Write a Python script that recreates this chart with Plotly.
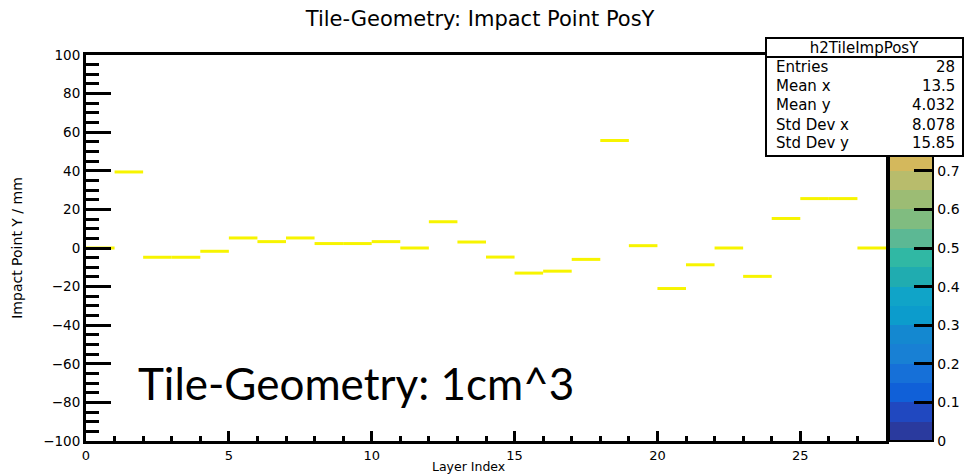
import plotly.graph_objects as go

# ---- data ----
layers = list(range(28))
impact_y = [0.0, 39.4, -4.8, -4.8, -1.7, 5.2, 3.3, 5.2, 2.3, 2.3, 3.3, 0.0, 13.6, 3.1,
            -4.7, -13.0, -12.0, -5.9, 55.7, 1.2, -21.0, -8.7, 0.0, -14.7, 15.3, 25.6, 25.6, 0.0]
bin_content = [1.0] * 28

stats_title = "h2TileImpPosY"
stats_labels = ["Entries", "Mean x", "Mean y", "Std Dev x", "Std Dev y"]
stats_values = ["28", "13.5", "4.032", "8.078", "15.85"]

# colour-axis labels visible below the statistics box
z_ticks = [0, 0.1, 0.2, 0.3, 0.4, 0.5, 0.6, 0.7]
band_colors = ["#2a3a9e", "#2048c0", "#1060d8", "#1670d8", "#1880d4", "#1488d0",
               "#0c9ccc", "#10a4c8", "#20acb0", "#30b8a4", "#5cb894", "#80bc80",
               "#9cbc74", "#b8bc6c", "#d4b85c", "#e6b84c", "#f2c03c", "#f6d02c",
               "#f6e41c", "#f7f400"]

# ---- build stepped colorscale ----
n = len(band_colors)
colorscale = []
for k, c in enumerate(band_colors):
    colorscale.append([k / n, c])
    colorscale.append([(k + 1) / n, c])

# ---- bins as horizontal segments (each layer bin spans [i, i+1]) ----
seg_x, seg_y = [], []
for i, v in zip(layers, impact_y):
    seg_x += [i, i + 1, None]
    seg_y += [v, v, None]

ROOTF = "DejaVu Sans"

fig = go.Figure()
fig.add_trace(go.Scatter(
    x=seg_x, y=seg_y, mode="lines",
    line=dict(color=band_colors[-1], width=3),
    hoverinfo="skip", showlegend=False))

fig.add_trace(go.Scatter(
    x=[layers[0] + 0.5, layers[-1] + 0.5], y=[impact_y[0], impact_y[-1]],
    mode="markers",
    marker=dict(size=1, opacity=0, color=[0, max(bin_content)], cmin=0, cmax=1,
                colorscale=colorscale, showscale=True,
                colorbar=dict(
                    x=1.004, xanchor="left", xpad=0, ypad=0,
                    y=0, yanchor="bottom", len=386, lenmode="pixels",
                    thickness=44, thicknessmode="pixels",
                    outlinecolor="black", outlinewidth=2,
                    ticks="inside", ticklen=20, tickwidth=3, tickcolor="black",
                    tickvals=z_ticks,
                    tickfont=dict(family=ROOTF, size=14, color="black"))),
    hoverinfo="skip", showlegend=False))

fig.update_layout(
    width=964, height=475,
    margin=dict(l=86, r=78, t=55, b=34, autoexpand=False),
    paper_bgcolor="white", plot_bgcolor="white",
    title=dict(text="Tile-Geometry: Impact Point PosY", x=0.498, xanchor="center",
               y=0.96, yanchor="middle",
               font=dict(family=ROOTF, size=21, color="black")),
    showlegend=False,
)

fig.update_xaxes(
    range=[0, 28], showgrid=False, zeroline=False,
    showline=True, linecolor="black", linewidth=3, mirror=True,
    ticks="inside", ticklen=10, tickwidth=3, tickcolor="black",
    tick0=0, dtick=5,
    minor=dict(ticks="inside", ticklen=5, tickwidth=3, tickcolor="black", dtick=1),
    tickfont=dict(family=ROOTF, size=13, color="black"))

fig.update_yaxes(
    range=[-100, 100], showgrid=False, zeroline=False,
    showline=True, linecolor="black", linewidth=3, mirror=True,
    ticks="inside", ticklen=25, tickwidth=3, tickcolor="black",
    tick0=0, dtick=20,
    minor=dict(ticks="inside", ticklen=13, tickwidth=3, tickcolor="black", dtick=5),
    tickfont=dict(family=ROOTF, size=13.5, color="black"),
    title=dict(text="Impact Point Y / mm", standoff=18,
               font=dict(family=ROOTF, size=14, color="black")))

# ---- statistics box (pixel layout converted to paper coords) ----
L, T, W, H = 86, 55, 800, 386
def px(xp):
    return (xp - L) / W
def py(yp):
    return (T + H - yp) / H

# x-axis title placed at the very bottom edge
fig.add_annotation(x=px(468), y=py(476), xref="paper", yref="paper",
                   xanchor="center", yanchor="bottom", text="Layer Index",
                   showarrow=False, font=dict(family=ROOTF, size=12.5, color="black"))

fig.add_annotation(x=px(765), y=py(37), xref="paper", yref="paper",
                   xanchor="left", yanchor="top", text=stats_title,
                   width=195, height=17, borderpad=0, borderwidth=2,
                   bordercolor="black", bgcolor="white", showarrow=False,
                   font=dict(family=ROOTF, size=15, color="black"))
fig.add_annotation(x=px(765), y=py(56), xref="paper", yref="paper",
                   xanchor="left", yanchor="top", text=" ",
                   width=195, height=97, borderpad=0, borderwidth=2,
                   bordercolor="black", bgcolor="white", showarrow=False,
                   font=dict(family=ROOTF, size=15, color="black"))
row_y = [67, 86, 105, 125, 143]
for lab, val, yy in zip(stats_labels, stats_values, row_y):
    fig.add_annotation(x=px(774), y=py(yy), xref="paper", yref="paper",
                       xanchor="left", yanchor="middle", text=lab, showarrow=False,
                       font=dict(family=ROOTF, size=15, color="black"))
    fig.add_annotation(x=px(957), y=py(yy), xref="paper", yref="paper",
                       xanchor="right", yanchor="middle", text=val, showarrow=False,
                       font=dict(family=ROOTF, size=15, color="black"))

# ---- large overlay label ----
fig.add_annotation(x=px(356), y=py(383), xref="paper", yref="paper",
                   xanchor="center", yanchor="middle",
                   text="Tile-Geometry: 1cm^3", showarrow=False,
                   font=dict(family="Lato", size=44, color="black"))

fig.write_html("out.html")
